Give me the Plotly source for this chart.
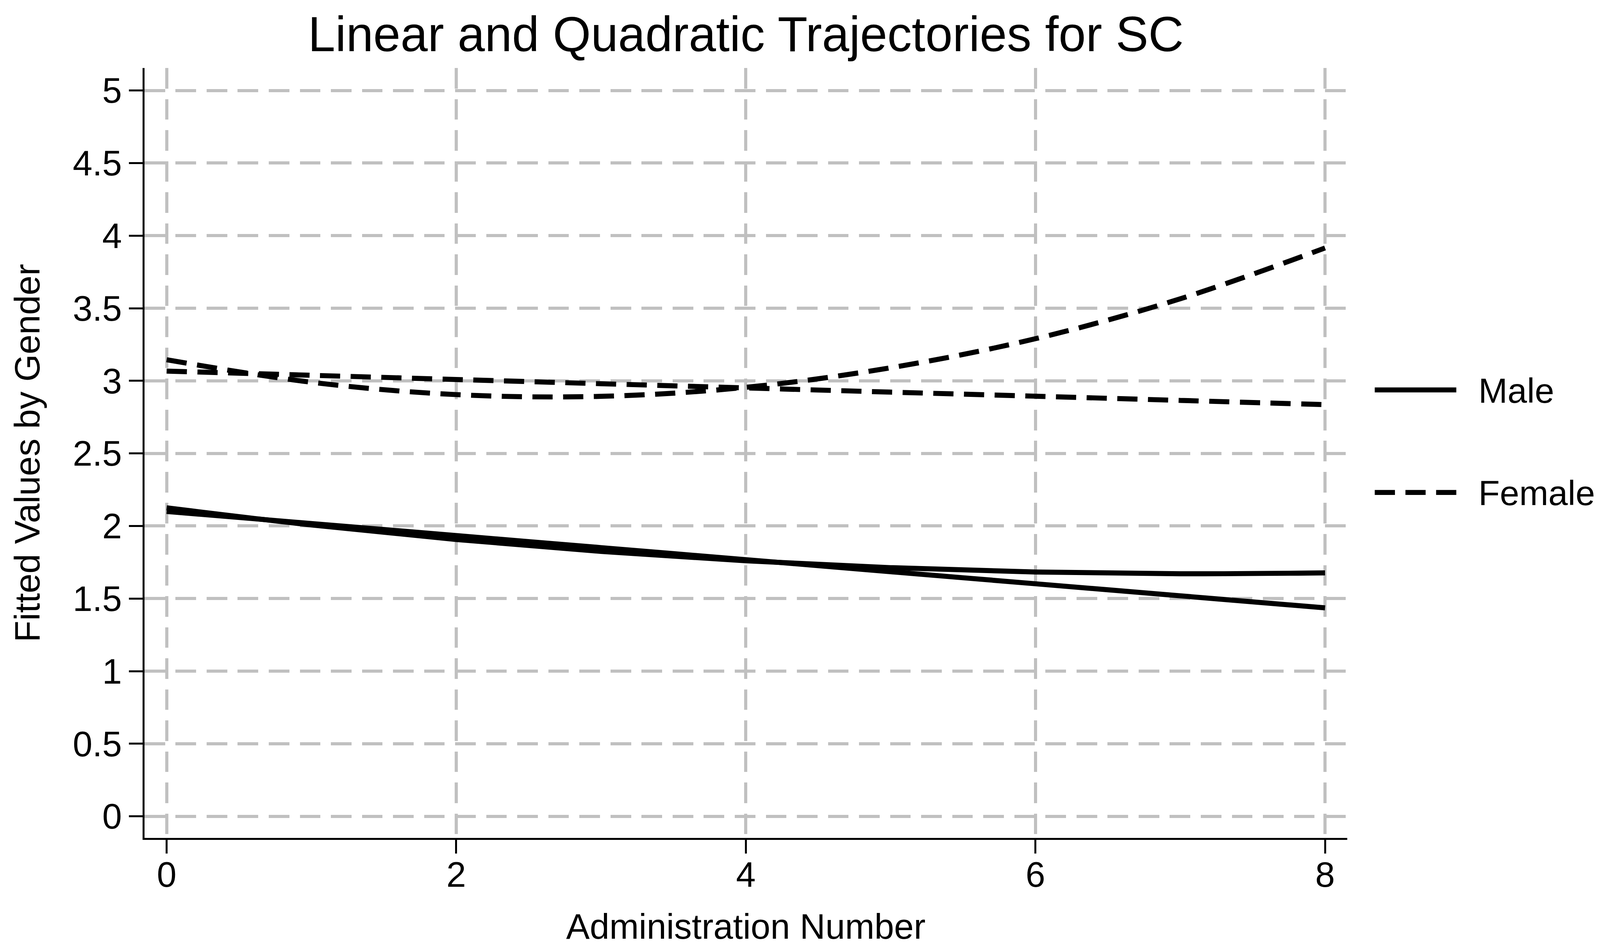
import plotly.graph_objects as go

# ---- data ----
admin = [0, 1, 2, 3, 4, 5, 6, 7, 8]
male_linear = [2.100, 2.017, 1.934, 1.851, 1.768, 1.685, 1.602, 1.519, 1.436]
male_quad = [2.125, 2.007, 1.907, 1.825, 1.760, 1.713, 1.683, 1.671, 1.677]
female_linear = [3.067, 3.038, 3.009, 2.980, 2.951, 2.922, 2.894, 2.865, 2.836]
female_quad = [3.145, 2.990, 2.905, 2.893, 2.955, 3.090, 3.290, 3.565, 3.915]

x_ticks = [0, 2, 4, 6, 8]
y_ticks = [0, 0.5, 1, 1.5, 2, 2.5, 3, 3.5, 4, 4.5, 5]
y_tick_labels = ["0", "0.5", "1", "1.5", "2", "2.5", "3", "3.5", "4", "4.5", "5"]

FONT = "Liberation Sans, Arial, Helvetica, sans-serif"
W, H = 4120, 2437
L, R, T, B = 372, 651, 175, 279
LW = 13
FEMALE_DASH = "52px,27px"
GRID_DASH = "53px,27px"

fig = go.Figure()
fig.add_trace(go.Scatter(x=admin, y=male_linear, mode="lines", name="Male",
                         line=dict(color="black", width=LW, shape="spline"), showlegend=False))
fig.add_trace(go.Scatter(x=admin, y=male_quad, mode="lines", name="Male",
                         line=dict(color="black", width=LW, shape="spline"), showlegend=False))
fig.add_trace(go.Scatter(x=admin, y=female_linear, mode="lines", name="Female",
                         line=dict(color="black", width=LW, dash=FEMALE_DASH, shape="spline"),
                         showlegend=False))
fig.add_trace(go.Scatter(x=admin, y=female_quad, mode="lines", name="Female",
                         line=dict(color="black", width=LW, dash=FEMALE_DASH, shape="spline"),
                         showlegend=False))

# ---- custom legend (long line samples, like the reference) ----
plot_w = W - L - R
plot_h = H - T - B


def px_to_paper_x(px):
    return (px - L) / plot_w


def px_to_paper_y(py):
    return (H - B - py) / plot_h


legend_items = [("Male", "solid", 1004), ("Female", FEMALE_DASH, 1268)]
for label, dash, py in legend_items:
    fig.add_shape(type="line", xref="paper", yref="paper",
                  x0=px_to_paper_x(3540), x1=px_to_paper_x(3750),
                  y0=px_to_paper_y(py), y1=px_to_paper_y(py),
                  line=dict(color="black", width=LW, dash=dash))
    fig.add_annotation(text=label, xref="paper", yref="paper",
                       x=px_to_paper_x(3805), y=px_to_paper_y(py + 2),
                       xanchor="left", yanchor="middle", showarrow=False,
                       font=dict(family=FONT, size=90, color="black"))

fig.update_layout(
    width=W, height=H,
    margin=dict(l=L, r=R, t=T, b=B, pad=0),
    paper_bgcolor="white", plot_bgcolor="white",
    font=dict(family=FONT, size=91, color="black"),
    title=dict(text="Linear and Quadratic Trajectories for SC",
               x=0.5, xref="paper", xanchor="center",
               y=1 - 88 / H, yref="container", yanchor="middle",
               font=dict(family=FONT, size=126, color="black")),
    showlegend=False,
)

fig.update_xaxes(
    range=[-0.153, 8.153], tickvals=x_ticks, ticktext=[str(v) for v in x_ticks],
    showgrid=True, gridcolor="#C0C0C0", gridwidth=8, griddash=GRID_DASH,
    zeroline=False, showline=True, linecolor="black", linewidth=5,
    ticks="outside", ticklen=35, tickwidth=5, tickcolor="black",
    ticklabelstandoff=-24,
    tickfont=dict(family=FONT, size=91, color="black"),
    title=dict(text="Administration Number", standoff=54,
               font=dict(family=FONT, size=91, color="black")),
)
fig.update_yaxes(
    range=[-0.15, 5.155], tickvals=y_ticks, ticktext=y_tick_labels,
    showgrid=True, gridcolor="#C0C0C0", gridwidth=8, griddash=GRID_DASH,
    zeroline=False, showline=True, linecolor="black", linewidth=5,
    ticks="outside", ticklen=35, tickwidth=5, tickcolor="black",
    tickfont=dict(family=FONT, size=91, color="black"),
    title=dict(text="Fitted Values by Gender", standoff=56,
               font=dict(family=FONT, size=91, color="black")),
)

fit_script = (
    "document.documentElement.style.overflow='hidden';"
    "document.body.style.margin='0';document.body.style.overflow='hidden';"
    "var gd=document.getElementsByClassName('plotly-graph-div')[0];"
    "var s=Math.min(window.innerWidth/%d, window.innerHeight/%d);"
    "if(s>0 && s<1){gd.style.transformOrigin='0 0';gd.style.transform='scale('+s+')';}"
) % (W, H)

fig.write_html("out.html", config={"displayModeBar": False}, post_script=fit_script)
